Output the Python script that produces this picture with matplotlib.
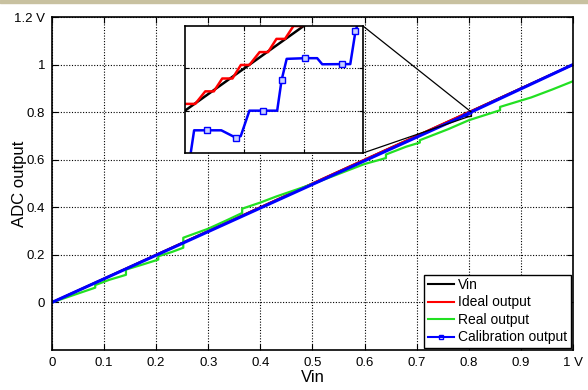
import matplotlib
matplotlib.use("Agg")
import matplotlib.pyplot as plt
from matplotlib.lines import Line2D
from matplotlib.patches import Rectangle
from mpl_toolkits.axes_grid1.inset_locator import mark_inset

plt.rcParams['font.family'] = ['Liberation Sans', 'DejaVu Sans']

# Vin (ideal straight line)
vin_x = [0.0, 1.0]
vin_y = [0.0, 1.0]

# Ideal ADC output (staircase, read from the zoomed view)
ideal_x = [0.0, 0.7900, 0.79086, 0.79171, 0.79243, 0.79314, 0.79400, 0.79471, 0.79543,
           0.79629, 0.79700, 0.79771, 0.79843, 0.79914, 0.79986, 0.80071, 0.80143, 1.0]
ideal_y = [0.0, 0.7908, 0.7908, 0.79228, 0.79228, 0.7938, 0.7938, 0.7954, 0.7954,
           0.79692, 0.79692, 0.79848, 0.79848, 0.8000, 0.8000, 0.8015, 0.8015, 1.0]

# Real ADC output
real_x = [0.0, 0.040, 0.083, 0.083, 0.110, 0.142, 0.142, 0.175, 0.204, 0.204, 0.230, 0.252,
          0.252, 0.300, 0.335, 0.365, 0.365, 0.400, 0.430, 0.470, 0.500, 0.550, 0.600,
          0.641, 0.641, 0.680, 0.706, 0.706, 0.760, 0.800, 0.860, 0.860, 0.920, 0.960, 1.0]
real_y = [0.0, 0.030, 0.062, 0.073, 0.095, 0.116, 0.138, 0.160, 0.180, 0.194, 0.212, 0.230,
          0.272, 0.310, 0.345, 0.376, 0.394, 0.420, 0.445, 0.475, 0.498, 0.540, 0.582,
          0.607, 0.622, 0.655, 0.672, 0.682, 0.728, 0.766, 0.808, 0.822, 0.862, 0.895, 0.930]

# Calibration output (points of the zoomed region plus the ends)
cal_x = [0.0, 0.79043, 0.79077, 0.79186, 0.79306, 0.79429, 0.79470, 0.79543, 0.79657,
         0.79777, 0.79814, 0.79857, 0.80014, 0.80114, 0.80157, 0.80322, 0.80393, 0.80437,
         0.80457, 1.0]
cal_y = [0.0, 0.7845, 0.78768, 0.78768, 0.78768, 0.7868, 0.7870, 0.7900, 0.7900,
         0.7900, 0.7936, 0.79612, 0.7962, 0.7962, 0.79548, 0.7955, 0.7955, 0.7994,
         0.8003, 1.0]
cal_markers = [3, 5, 8, 10, 12, 15, 17]

xticks = [0, 0.1, 0.2, 0.3, 0.4, 0.5, 0.6, 0.7, 0.8, 0.9, 1.0]
xtick_labels = ['0', '0.1', '0.2', '0.3', '0.4', '0.5', '0.6', '0.7', '0.8', '0.9', '1 V']
yticks = [0, 0.2, 0.4, 0.6, 0.8, 1.0, 1.2]
ytick_labels = ['0', '0.2', '0.4', '0.6', '0.8', '1', '1.2 V']

green = '#22e022'

fig = plt.figure(figsize=(5.88, 3.9), dpi=100)
fig.patches.append(Rectangle((0, 0.992), 1, 0.008, transform=fig.transFigure,
                             color='#c8c1a0', zorder=0))

ax = fig.add_axes([0.0884, 0.1026, 0.8861, 0.8538])
grid_style = dict(linestyle=(0, (1, 1.5)), color='black', linewidth=0.8)

ax.plot(vin_x, vin_y, color='black', lw=1.5)
ax.plot(ideal_x, ideal_y, color='red', lw=1.5)
ax.plot(real_x, real_y, color=green, lw=1.6)
ax.plot(cal_x, cal_y, color='blue', lw=2.2)

ax.set_xlim(0, 1)
ax.set_ylim(-0.2, 1.2)
ax.set_xticks(xticks)
ax.set_xticklabels(xtick_labels)
ax.set_yticks(yticks)
ax.set_yticklabels(ytick_labels)
ax.tick_params(direction='in', top=True, right=True, length=4, labelsize=9.5, pad=5)
ax.grid(True, **grid_style)
for s in ax.spines.values():
    s.set_linewidth(1.2)
ax.set_xlabel('Vin', fontsize=12, labelpad=1)
ax.set_ylabel('ADC output', fontsize=12)
ax.yaxis.set_label_coords(-0.047, 0.5)

handles = [
    Line2D([], [], color='black', lw=1.5),
    Line2D([], [], color='red', lw=1.5),
    Line2D([], [], color=green, lw=1.5),
    Line2D([], [], color='blue', lw=1.5, marker='s', markersize=3, mfc='none'),
]
leg = ax.legend(handles, ['Vin', 'Ideal output', 'Real output', 'Calibration output'],
                loc='lower right', fontsize=10, fancybox=False, edgecolor='black',
                framealpha=1, borderaxespad=0.15, handlelength=1.9, labelspacing=0.25,
                handletextpad=0.3, borderpad=0.25)
leg.get_frame().set_linewidth(1.0)

# zoomed inset
axins = fig.add_axes([0.3146, 0.6077, 0.3027, 0.3256])
axins.plot(vin_x, vin_y, color='black', lw=1.8)
axins.plot(ideal_x, ideal_y, color='red', lw=1.8)
axins.plot(real_x, real_y, color=green, lw=1.8)
axins.plot(cal_x, cal_y, color='blue', lw=1.8, marker='s', markersize=5,
           mfc='#c8d0ff', mec='blue', markevery=cal_markers)
axins.set_xlim(0.790, 0.805)
axins.set_ylim(0.785, 0.800)
axins.set_xticks([0.795, 0.800])
axins.set_yticks([0.790, 0.795])
axins.set_xticklabels([])
axins.set_yticklabels([])
axins.tick_params(direction='in', top=True, right=True, length=3)
axins.grid(True, **grid_style)
for s in axins.spines.values():
    s.set_linewidth(1.2)

mark_inset(ax, axins, loc1=1, loc2=4, fc='none', ec='black', lw=0.9)

fig.savefig('out.png', dpi=100)
